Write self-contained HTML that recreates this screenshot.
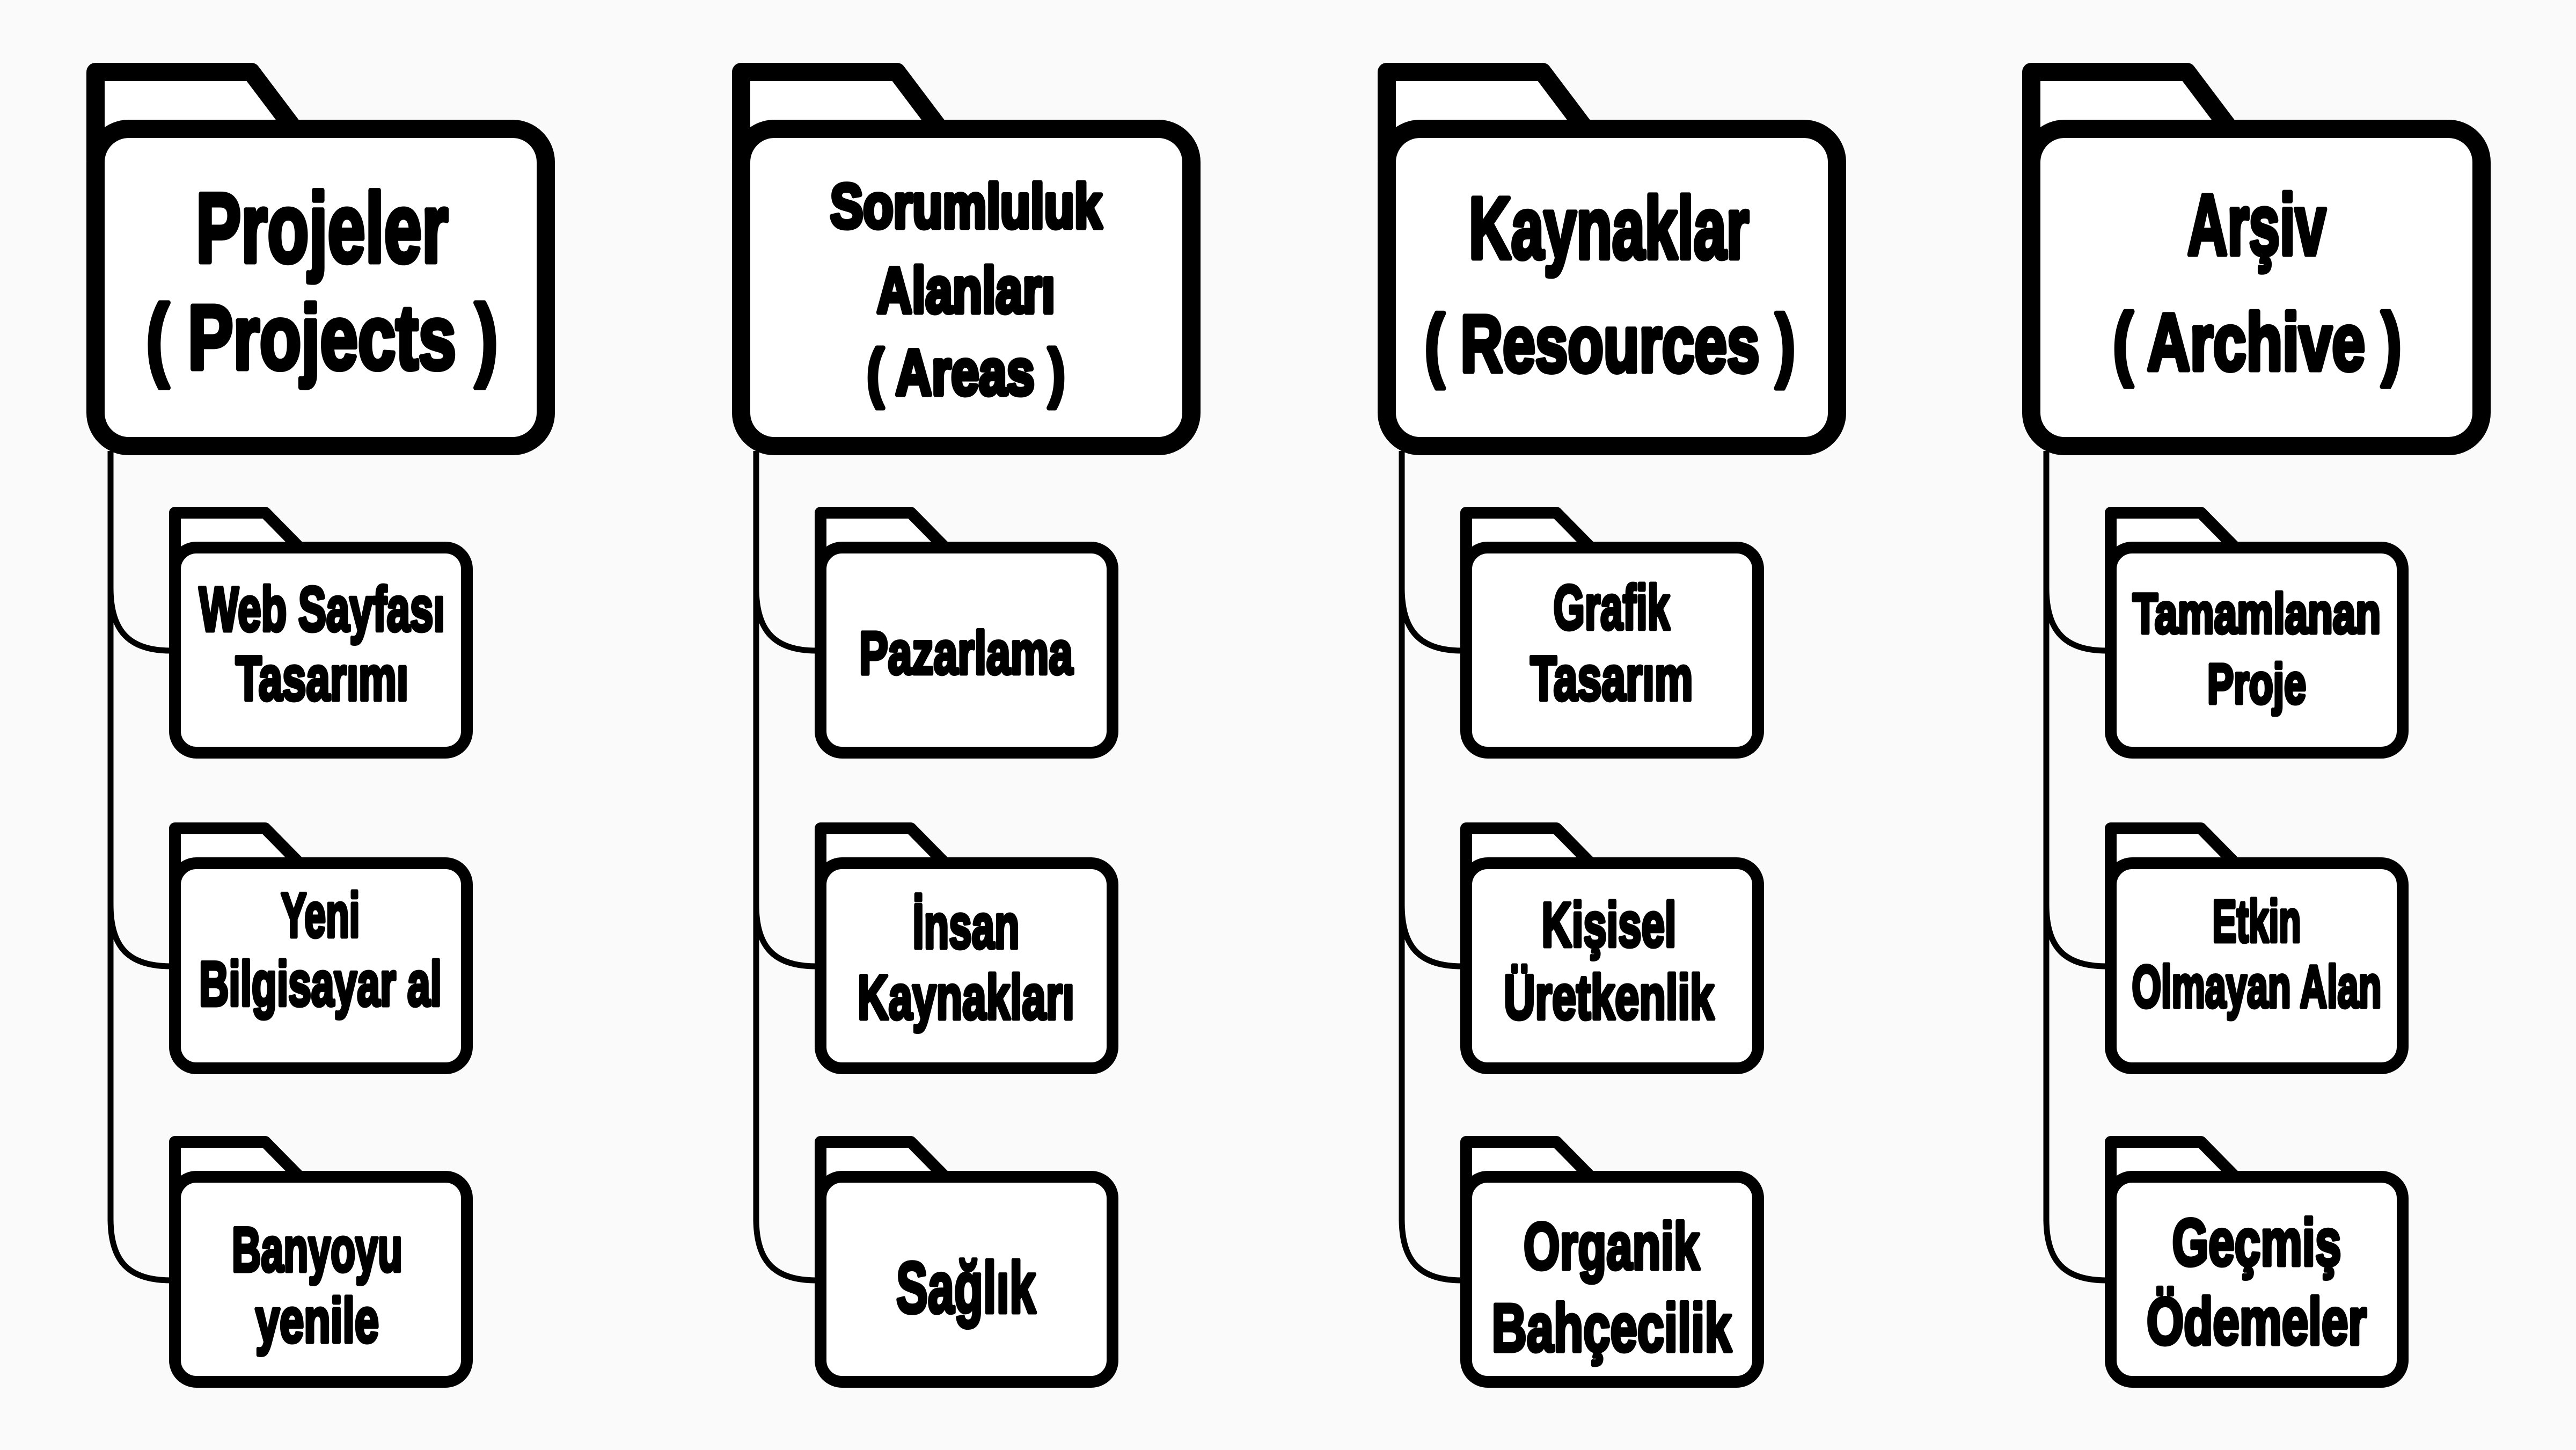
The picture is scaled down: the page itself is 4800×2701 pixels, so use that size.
<!DOCTYPE html>
<html><head><meta charset="utf-8"><style>
html,body{margin:0;padding:0;background:#fafafa;}
svg{display:block;}
text{font-family:"Liberation Sans","DejaVu Sans",sans-serif;font-weight:bold;fill:#000;text-anchor:middle;stroke:#000;stroke-width:7;stroke-linejoin:round;}
text.b{stroke-width:9;}
</style></head><body>
<svg width="4800" height="2701" viewBox="0 0 4800 2701" xmlns="http://www.w3.org/2000/svg">
<defs>
<g id="big">
  <path d="M178,300 L178,134 L468,134 L548,240" fill="#fff" stroke="#000" stroke-width="34" stroke-linejoin="round"/>
  <rect x="178" y="240" width="839" height="591" rx="62" fill="#fff" stroke="#000" stroke-width="34"/>
</g>
<g id="small">
  <path d="M0,60 L0,-53 L168,-53 L232,12" fill="#fff" stroke="#000" stroke-width="22" stroke-linejoin="round"/>
  <rect x="0" y="12" width="544" height="382" rx="40" fill="#fff" stroke="#000" stroke-width="22"/>
</g>
<g id="conn" fill="none" stroke="#000" stroke-width="11">
  <path d="M206,840 L206,2275"/>
  <path d="M206,1095 C206,1175 240,1212 318,1212"/>
  <path d="M206,1685 C206,1765 240,1800 318,1800"/>
  <path d="M206,2270 C206,2350 240,2385 318,2385"/>
</g>
<g id="col">
  <use href="#conn"/>
  <use href="#big"/>
  <use href="#small" x="326" y="1008"/>
  <use href="#small" x="326" y="1596"/>
  <use href="#small" x="326" y="2180"/>
</g>
</defs>

<use href="#col" x="0"/>
<use href="#col" x="1203"/>
<use href="#col" x="2406"/>
<use href="#col" x="3607"/>

<!-- Column 1 -->
<text class="b" x="600" y="488" font-size="184" textLength="470" lengthAdjust="spacingAndGlyphs">Projeler</text>
<text class="b" x="600" y="687" font-size="170" textLength="655" lengthAdjust="spacingAndGlyphs">( Projects )</text>
<text x="600" y="1175" font-size="117" textLength="458" lengthAdjust="spacingAndGlyphs">Web Sayfası</text>
<text x="600" y="1304" font-size="117" textLength="322" lengthAdjust="spacingAndGlyphs">Tasarımı</text>
<text x="597" y="1745" font-size="117" textLength="147" lengthAdjust="spacingAndGlyphs">Yeni</text>
<text x="597" y="1873" font-size="117" textLength="452" lengthAdjust="spacingAndGlyphs">Bilgisayar al</text>
<text x="591" y="2368" font-size="117" textLength="318" lengthAdjust="spacingAndGlyphs">Banyoyu</text>
<text x="591" y="2500" font-size="117" textLength="230" lengthAdjust="spacingAndGlyphs">yenile</text>

<!-- Column 2 -->
<text class="b" x="1800" y="424" font-size="116" textLength="506" lengthAdjust="spacingAndGlyphs">Sorumluluk</text>
<text class="b" x="1800" y="582" font-size="120" textLength="332" lengthAdjust="spacingAndGlyphs">Alanları</text>
<text class="b" x="1800" y="735" font-size="120" textLength="369" lengthAdjust="spacingAndGlyphs">( Areas )</text>
<text x="1800" y="1255" font-size="112" textLength="398" lengthAdjust="spacingAndGlyphs">Pazarlama</text>
<text x="1800" y="1766" font-size="117" textLength="199" lengthAdjust="spacingAndGlyphs">İnsan</text>
<text x="1800" y="1898" font-size="117" textLength="404" lengthAdjust="spacingAndGlyphs">Kaynakları</text>
<text x="1800" y="2445" font-size="135" textLength="260" lengthAdjust="spacingAndGlyphs">Sağlık</text>

<!-- Column 3 -->
<text class="b" x="2998" y="481" font-size="163" textLength="522" lengthAdjust="spacingAndGlyphs">Kaynaklar</text>
<text class="b" x="3000" y="692" font-size="150" textLength="690" lengthAdjust="spacingAndGlyphs">(  Resources )</text>
<text x="3003" y="1172" font-size="117" textLength="217" lengthAdjust="spacingAndGlyphs">Grafik</text>
<text x="3003" y="1304" font-size="117" textLength="303" lengthAdjust="spacingAndGlyphs">Tasarım</text>
<text x="2998" y="1763" font-size="117" textLength="251" lengthAdjust="spacingAndGlyphs">Kişisel</text>
<text x="2998" y="1898" font-size="117" textLength="392" lengthAdjust="spacingAndGlyphs">Üretkenlik</text>
<text x="3003" y="2364" font-size="123" textLength="328" lengthAdjust="spacingAndGlyphs">Organik</text>
<text x="3003" y="2517" font-size="126" textLength="447" lengthAdjust="spacingAndGlyphs">Bahçecilik</text>

<!-- Column 4 -->
<text class="b" x="4205" y="474" font-size="160" textLength="258" lengthAdjust="spacingAndGlyphs">Arşiv</text>
<text class="b" x="4206" y="689" font-size="150" textLength="537" lengthAdjust="spacingAndGlyphs">(  Archive )</text>
<text x="4205" y="1179" font-size="105" textLength="462" lengthAdjust="spacingAndGlyphs">Tamamlanan</text>
<text x="4205" y="1310" font-size="105" textLength="184" lengthAdjust="spacingAndGlyphs">Proje</text>
<text x="4205" y="1754" font-size="110" textLength="165" lengthAdjust="spacingAndGlyphs">Etkin</text>
<text x="4205" y="1876" font-size="110" textLength="465" lengthAdjust="spacingAndGlyphs">Olmayan Alan</text>
<text x="4205" y="2357" font-size="123" textLength="315" lengthAdjust="spacingAndGlyphs">Geçmiş</text>
<text x="4205" y="2504" font-size="123" textLength="410" lengthAdjust="spacingAndGlyphs">Ödemeler</text>
</svg>
</body></html>
